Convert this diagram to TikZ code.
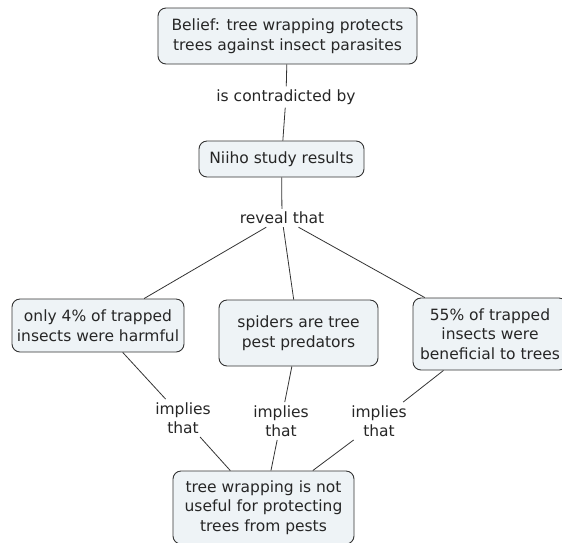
\documentclass[tikz,border=0pt]{standalone}
\usepackage{fontspec}
\setmainfont{DejaVu Sans}
\definecolor{boxfill}{HTML}{EEF3F6}
\definecolor{linecol}{HTML}{333333}
\begin{document}
\begin{tikzpicture}[x=1pt,y=-1pt,
  concept/.style={draw=linecol,line width=0.9pt,fill=boxfill,rounded corners=8pt,align=center,
    inner sep=0pt,font=\fontsize{15.5}{19.5}\selectfont,text=black!85},
  linklabel/.style={align=center,inner sep=3pt,font=\fontsize{15.5}{19.5}\selectfont,text=black!85},
  conn/.style={draw=linecol,line width=0.8pt}]
\useasboundingbox (0,0) rectangle (562,542);
\node[concept,minimum width=259pt,minimum height=56pt] (belief) at (287.5,36) {Belief: tree wrapping protects\\trees against insect parasites};
\node[linklabel] (contra) at (286,97) {is contradicted by};
\node[concept,minimum width=165pt,minimum height=36pt] (niiho) at (281.5,159) {Niiho study results};
\node[linklabel] (reveal) at (282,218) {reveal that};
\node[concept,minimum width=172pt,minimum height=53pt] (four) at (98,325.5) {only 4\% of trapped\\insects were harmful};
\node[concept,minimum width=159pt,minimum height=66pt] (spiders) at (298.5,333) {spiders are tree\\pest predators};
\node[concept,minimum width=154pt,minimum height=72pt] (fiftyfive) at (490,334) {55\% of trapped\\insects were\\beneficial to trees};
\node[linklabel] (impl) at (183,418) {implies\\that};
\node[linklabel] (impm) at (281,421) {implies\\that};
\node[linklabel] (impr) at (379,421) {implies\\that};
\node[concept,minimum width=181pt,minimum height=73pt] (concl) at (263.5,507.5) {tree wrapping is not\\useful for protecting\\trees from pests};
\draw[conn] (belief) -- (contra);
\draw[conn] (contra) -- (niiho);
\draw[conn] (niiho) -- (reveal);
\draw[conn] (reveal) -- (four);
\draw[conn] (reveal) -- (spiders);
\draw[conn] (reveal) -- (fiftyfive);
\draw[conn] (four) -- (impl);
\draw[conn] (spiders) -- (impm);
\draw[conn] (fiftyfive) -- (impr);
\draw[conn] (impl) -- (concl);
\draw[conn] (impm) -- (concl);
\draw[conn] (impr) -- (concl);
\end{tikzpicture}
\end{document}
